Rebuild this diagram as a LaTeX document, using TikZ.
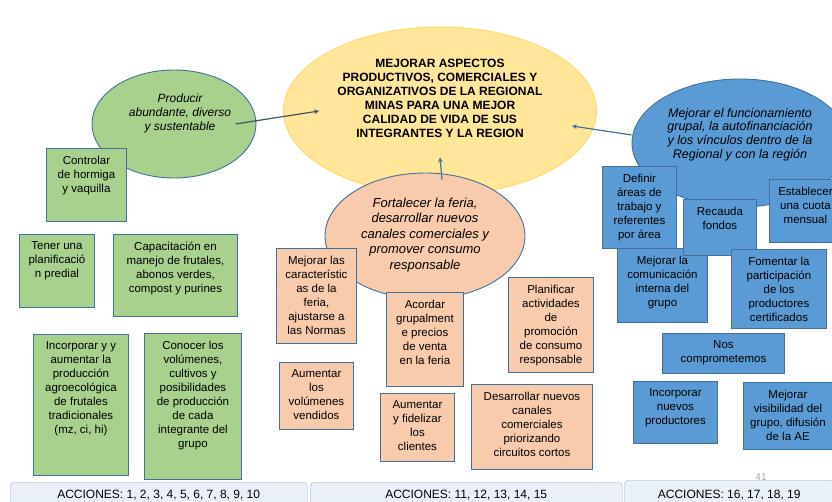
\documentclass[tikz,border=0pt]{standalone}
\usepackage{fontspec}
\setmainfont{Liberation Sans}
\usetikzlibrary{shapes.geometric, arrows}
\definecolor{amarillo}{HTML}{FFE699}
\definecolor{oro}{HTML}{FFD966}
\definecolor{verde}{HTML}{A9D18E}
\definecolor{salmon}{HTML}{F8CBAD}
\definecolor{azul}{HTML}{5B9BD5}
\definecolor{borde}{HTML}{41719C}
\definecolor{pizarra}{HTML}{44546A}
\definecolor{celeste}{HTML}{EAF0F8}
\definecolor{bordepest}{HTML}{9FB3CB}
\tikzstyle{general} = [ellipse, draw=oro, line width=0.9pt, fill=amarillo, inner sep=0pt, font=\fontsize{12}{14}\selectfont\bfseries]
\tikzstyle{eje} = [ellipse, draw=borde, line width=0.9pt, inner sep=0pt]
\tikzstyle{accion} = [rectangle, draw=borde, line width=0.9pt, inner xsep=3pt, inner ysep=7.5pt, anchor=north west, font=\fontsize{11.5}{14}\selectfont]
\tikzstyle{pestana} = [rectangle, rounded corners=4pt, draw=bordepest, fill=celeste, anchor=north west, font=\fontsize{12}{14}\selectfont]
\tikzstyle{arrow} = [line width=1.2pt,->,>=stealth]
\newcommand{\caja}[3]{\parbox[t][#2][t]{#1}{\centering #3}}
\newcommand{\elipse}[3]{\parbox[c][#2][t]{#1}{\centering #3}}

\begin{document}
\begin{tikzpicture}[x=1pt, y=-1pt]
    \useasboundingbox (0,0) rectangle (832,502);
    \fill[white] (0,0) rectangle (832,502);
    \clip (0,0) rectangle (832,502);

    % objetivo general y ejes
    \node (objetivo) [general, minimum width=313, minimum height=168] at (440,111) {\elipse{215pt}{104pt}{MEJORAR ASPECTOS\\PRODUCTIVOS, COMERCIALES Y\\ORGANIZATIVOS DE LA REGIONAL\\MINAS PARA UNA MEJOR\\CALIDAD DE VIDA DE SUS\\INTEGRANTES Y LA REGION}};
    \node (feria) [eje, fill=salmon, minimum width=200, minimum height=126, font=\fontsize{13}{15.5}\selectfont\itshape] at (425,236) {\elipse{135pt}{76pt}{Fortalecer la feria,\\desarrollar nuevos\\canales comerciales y\\promover consumo\\responsable}};
    \node (producir) [eje, fill=verde, minimum width=164, minimum height=108, font=\fontsize{12}{14}\selectfont\itshape] at (174,124) {\elipse{110pt}{60pt}{\leftskip=6pt plus 1fil\rightskip=-6pt plus 1fil Producir\\abundante, diverso\\y sustentable}};
    \node (funcionamiento) [eje, fill=azul, minimum width=216, minimum height=128, font=\fontsize{12.5}{13.7}\selectfont\itshape] at (740,143) {\elipse{150pt}{70pt}{Mejorar el funcionamiento\\grupal, la autofinanciación\\y los vínculos dentro de la\\Regional y con la región}};

    \draw [arrow, pizarra] ([xshift=-21pt]producir.east) -- ([xshift=36pt]objetivo.west);
    \draw [arrow, borde] ([xshift=17pt,yshift=-7pt]feria.north) -- ([yshift=38pt]objetivo.south);
    \draw [arrow, borde] ([yshift=8pt]funcionamiento.west) -- ([xshift=-25pt,yshift=-15pt]objetivo.east);

    % acciones produccion
    \node (hormiga) [accion, fill=verde] at (46,148) {\caja{74pt}{58pt}{Controlar\\de hormiga\\y vaquilla}};
    \node (planif) [accion, fill=verde] at (19,234) {\caja{69pt}{58pt}{Tener una\\planificació\\n predial}};
    \node (capacit) [accion, fill=verde] at (113,234) {\caja{118pt}{67pt}{Capacitación en\\manejo de frutales,\\abonos verdes,\\compost y purines}};
    \node (frutales) [accion, fill=verde] at (33,334) {\caja{89pt}{126pt}{Incorporar y y\\aumentar la\\producción\\agroecológica\\de frutales\\tradicionales\\(mz, ci, hi)}};
    \node (volumen) [accion, fill=verde] at (144,333) {\caja{91pt}{131pt}{Conocer los\\volúmenes,\\cultivos y\\posibilidades\\de producción\\de cada\\integrante del\\grupo}};

    % acciones feria
    \node (normas) [accion, fill=salmon] at (276,248) {\caja{74pt}{80pt}{Mejorar las\\característic\\as de la\\feria,\\ajustarse a\\las Normas}};
    \node (precios) [accion, fill=salmon] at (386,292) {\caja{71pt}{79pt}{Acordar\\grupalment\\e precios\\de venta\\en la feria}};
    \node (promocion) [accion, fill=salmon] at (508,277) {\caja{79pt}{80pt}{Planificar\\actividades\\de\\promoción\\de consumo\\responsable}};
    \node (vendidos) [accion, fill=salmon] at (279,362) {\caja{68pt}{52pt}{Aumentar\\los\\volúmenes\\vendidos}};
    \node (clientes) [accion, fill=salmon] at (380,393) {\caja{68pt}{53pt}{Aumentar\\y fidelizar\\los\\clientes}};
    \node (canales) [accion, fill=salmon] at (471,384) {\caja{115pt}{70pt}{Desarrollar nuevos\\canales\\comerciales\\priorizando\\circuitos cortos}};

    % acciones grupo
    \node (comunic) [accion, fill=azul] at (617,248) {\caja{84pt}{59pt}{Mejorar la\\comunicación\\interna del\\grupo}};
    \node (areas) [accion, fill=azul] at (602,166) {\caja{68pt}{67pt}{Definir\\áreas de\\trabajo y\\referentes\\por área}};
    \node (fondos) [accion, fill=azul] at (683,199) {\caja{67pt}{41pt}{Recauda\\fondos}};
    \node (cuota) [accion, fill=azul] at (769,179) {\caja{66pt}{48pt}{Establecer\\una cuota\\mensual}};
    \node (certif) [accion, fill=azul] at (731,249) {\caja{89pt}{64pt}{Fomentar la\\participación\\de los\\productores\\certificados}};
    \node (compromiso) [accion, fill=azul] at (662,333) {\caja{116pt}{25pt}{Nos\\comprometemos}};
    \node (nuevos) [accion, fill=azul] at (633,381) {\caja{78pt}{47pt}{Incorporar\\nuevos\\productores}};
    \node (visib) [accion, fill=azul] at (743,382) {\caja{83pt}{52pt}{Mejorar\\visibilidad del\\grupo, difusión\\de la AE}};

    % pestañas de acciones
    \node (acc1) [pestana, minimum width=297, minimum height=26] at (10,482) {ACCIONES: 1, 2, 3, 4, 5, 6, 7, 8, 9, 10};
    \node (acc2) [pestana, minimum width=312, minimum height=26] at (310,482) {ACCIONES: 11, 12, 13, 14, 15};
    \node (acc3) [pestana, minimum width=210, minimum height=30] at (624,480) {ACCIONES: 16, 17, 18, 19};
    \node (pagina) [text=gray!70, font=\fontsize{10}{12}\selectfont] at (761,477) {41};
\end{tikzpicture}
\end{document}
